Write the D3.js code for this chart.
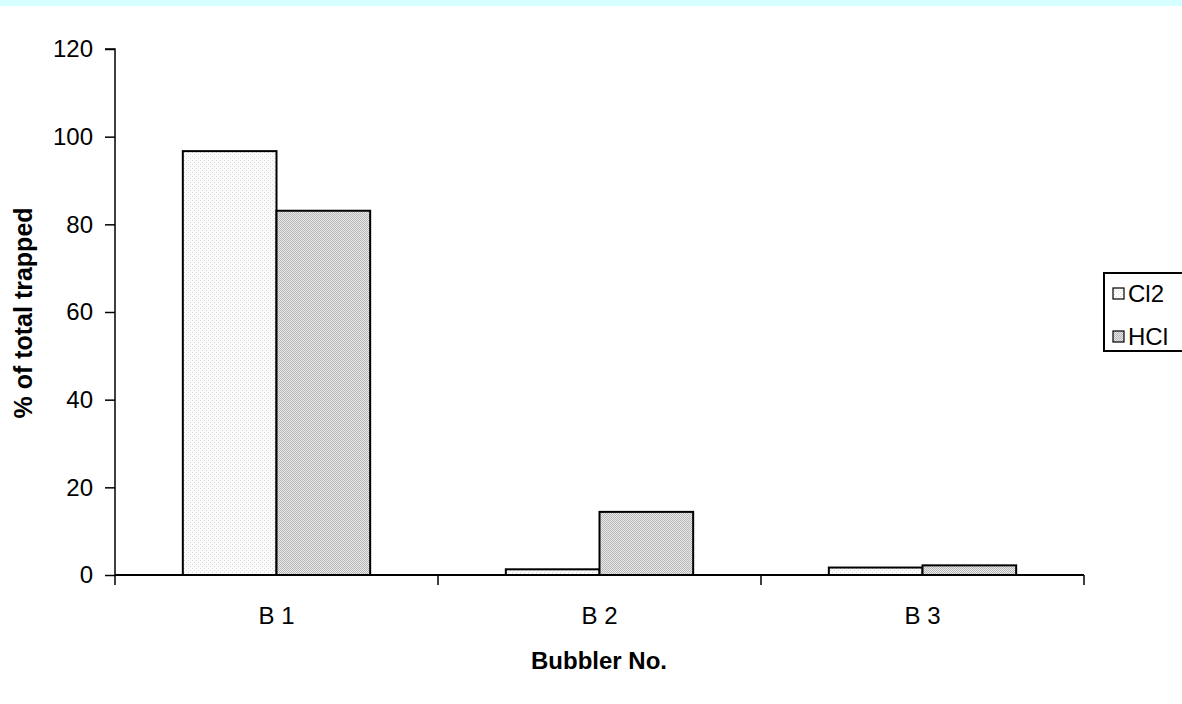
<!DOCTYPE html>
<html><head><meta charset="utf-8">
<script src="https://cdn.jsdelivr.net/npm/d3@7"></script>
<style>body{margin:0;background:#fff;} svg{display:block;font-family:"Liberation Sans",Arial,sans-serif;}</style>
</head><body>
<script>
const categories = ["B 1", "B 2", "B 3"];
const seriesNames = ["Cl2", "HCl"];
const cl2Values = [96.7, 1.3, 1.7];
const hclValues = [83.1, 14.4, 2.2];
const yTicks = [0, 20, 40, 60, 80, 100, 120];

const W = 1182, H = 704;
const FONT = "Liberation Sans, Arial, sans-serif";
const svg = d3.select("body").append("svg").attr("width", W).attr("height", H);
const defs = svg.append("defs");
const p1 = defs.append("pattern").attr("id","pCl2").attr("patternUnits","userSpaceOnUse").attr("width",4).attr("height",4);
p1.append("rect").attr("width",4).attr("height",4).attr("fill","#fbfbfb");
p1.append("rect").attr("x",0).attr("y",0).attr("width",1).attr("height",1).attr("fill","#d8d8d8");
p1.append("rect").attr("x",2).attr("y",2).attr("width",1).attr("height",1).attr("fill","#d8d8d8");
const p2 = defs.append("pattern").attr("id","pHCl").attr("patternUnits","userSpaceOnUse").attr("width",2).attr("height",2);
p2.append("rect").attr("width",2).attr("height",2).attr("fill","#e8e8e8");
p2.append("rect").attr("x",0).attr("y",0).attr("width",1).attr("height",1).attr("fill","#b8b8b8");
p2.append("rect").attr("x",1).attr("y",1).attr("width",1).attr("height",1).attr("fill","#b8b8b8");
const fills = ["url(#pCl2)", "url(#pHCl)"];

svg.append("rect").attr("x",0).attr("y",0).attr("width",W).attr("height",6).attr("fill","#d6ffff");

const x0 = 115, x1 = 1084, yTop = 49, yBot = 575;
const x = d3.scaleBand().domain(categories).range([x0, x1]).paddingInner(0).paddingOuter(0);
const y = d3.scaleLinear().domain([0, 120]).range([yBot, yTop]);
const groupW = x.bandwidth() * 0.58;
const xs = d3.scaleBand().domain(seriesNames).range([0, groupW]);

const data = categories.map((c, i) => ({c, vals: [cl2Values[i], hclValues[i]]}));
const g = svg.append("g");
data.forEach(d => {
  d.vals.forEach((v, k) => {
    const bx = x(d.c) + (x.bandwidth() - groupW) / 2 + xs(seriesNames[k]);
    g.append("rect").attr("x", bx).attr("y", y(v)).attr("width", xs.bandwidth()).attr("height", yBot - y(v))
      .attr("fill", fills[k]).attr("stroke", "#000").attr("stroke-width", 2);
  });
});

// y axis
const yAxis = d3.axisLeft(y).tickValues(yTicks).tickSize(10).tickPadding(12).tickFormat(d3.format("d"));
const ya = svg.append("g").attr("transform", `translate(${x0},0)`).call(yAxis);
ya.attr("font-size", null).attr("font-family", null);
ya.select(".domain").attr("stroke","#000").attr("stroke-width",1.5).attr("d", `M-10,${yTop}H0V${yBot}`);
ya.selectAll(".tick line").attr("stroke","#000").attr("stroke-width",1.5);
ya.selectAll("text").style("font-size", "24px").attr("fill","#000").style("font-family", FONT);

// x axis
const xAxis = d3.axisBottom(x).tickSize(0).tickPadding(32);
const xa = svg.append("g").attr("transform", `translate(0,${yBot})`).call(xAxis);
xa.attr("font-size", null).attr("font-family", null);
xa.select(".domain").attr("stroke","#000").attr("stroke-width",2).attr("d", `M${x0},0H${x1}`);
xa.selectAll("text").style("font-size", "24px").attr("fill","#000").style("font-family", FONT);
// category boundary ticks
const bounds = [x0, ...categories.map(c => x(c) + x.bandwidth())];
svg.append("g").selectAll("line").data(bounds).join("line")
  .attr("x1", d => d).attr("x2", d => d).attr("y1", yBot).attr("y2", yBot + 10)
  .attr("stroke","#000").attr("stroke-width",1.5);

// titles
svg.append("text").attr("x", 599).attr("y", 669).attr("text-anchor","middle")
  .style("font-size", "24px").attr("font-weight","bold").style("font-family", FONT).text("Bubbler No.");
svg.append("text").attr("transform","translate(32,313) rotate(-90)").attr("text-anchor","middle")
  .style("font-size", "25px").attr("font-weight","bold").style("font-family", FONT).text("% of total trapped");

// legend
const lg = svg.append("g");
lg.append("rect").attr("x",1104).attr("y",273).attr("width",90).attr("height",78).attr("fill","#fff").attr("stroke","#000").attr("stroke-width",2);
seriesNames.forEach((s, i) => {
  const ly = 293 + i * 43;
  lg.append("rect").attr("x",1113).attr("y",ly - 5).attr("width",11).attr("height",11).attr("fill",fills[i]).attr("stroke","#000").attr("stroke-width",1.2);
  lg.append("text").attr("x",1128).attr("y",ly + 9).style("font-size","24px").style("font-family", FONT).text(s);
});
</script>
</body></html>
